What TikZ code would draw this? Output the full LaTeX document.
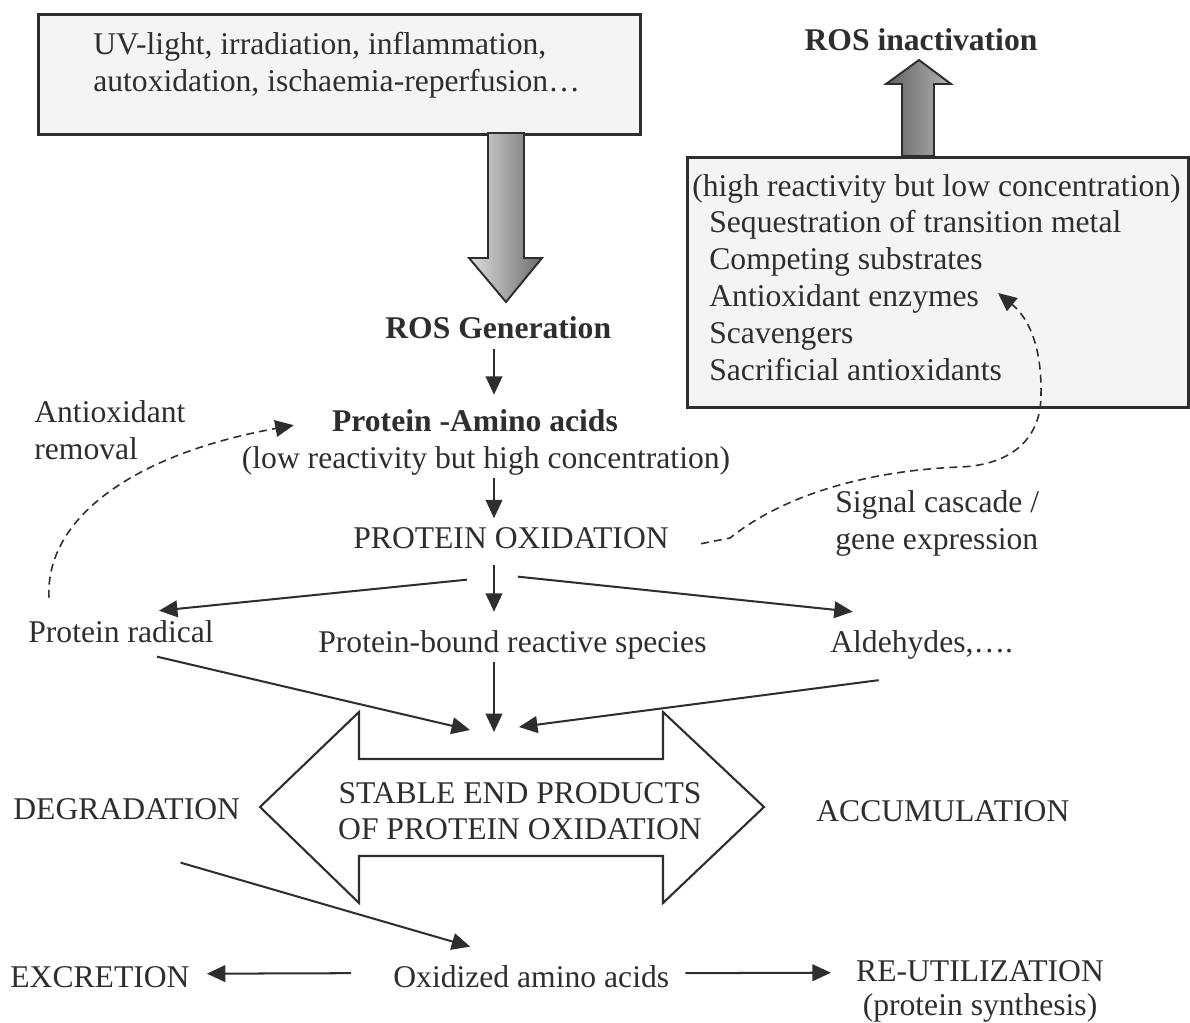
\documentclass[tikz,border=0pt]{standalone}
\usepackage{fontspec}
\setmainfont{Liberation Serif}
\usetikzlibrary{arrows.meta}
\usetikzlibrary{calc}
\usetikzlibrary{positioning}
\definecolor{ink}{gray}{0.18}
\definecolor{boxfill}{gray}{0.955}
\pgfdeclarehorizontalshading{downfade}{100bp}{color(0bp)=(black!35); color(22bp)=(black!10); color(100bp)=(black!80)}
\pgfdeclarehorizontalshading{upfade}{100bp}{color(0bp)=(black!80); color(100bp)=(black!12)}
\tikzset{
    txt/.style = {inner sep=0pt, text=ink, font=\fontsize{18}{21}\selectfont},
    boldtxt/.style = {txt, font=\fontsize{18}{21}\selectfont\bfseries},
    srcbox/.style = {rectangle, draw=ink, line width=1.6pt, fill=boxfill, inner sep=0pt},
    flow/.style = {draw=ink, line width=1.15pt, -{Triangle[length=10.5pt,width=9.5pt]}},
    feedback/.style = {flow, line width=0.9pt, dash pattern=on 4.5pt off 3pt}, % regulation loops
    fatarrow/.style = {draw=ink, line width=1.1pt},
    hollow/.style = {draw=ink, line width=1.2pt, fill=white}
}

\begin{document}
\begin{tikzpicture}[x=0.02cm, y=-0.02cm]
\useasboundingbox (0,0) rectangle (1190,1023);
%
% sources of ROS
\node[srcbox, anchor=north west, minimum width=12.04cm, minimum height=2.4cm] (uvbox) at (37,13) {};
\node[txt, anchor=north west, align=left] (uvtext) at (93,32) {UV-light, irradiation, inflammation,\\autoxidation, ischaemia-reperfusion\ldots};
\shadedraw[shading=downfade, fatarrow] (488,133) -- (488,258) -- (469,258) -- (506,302) -- (542,258) -- (524,258) -- (524,133) -- cycle;
\node[boldtxt, anchor=base west] (rosgen) at (385,339) {ROS Generation};
%
% inactivation box
\node[srcbox, anchor=north west, minimum width=10.02cm, minimum height=5cm] (inactbox) at (686,156) {};
\shadedraw[shading=upfade, fatarrow] (902,156) -- (902,84) -- (886,84) -- (919,60) -- (951,84) -- (934,84) -- (934,156) -- cycle;
\node[boldtxt, anchor=base] (rosinact) at (921,51) {ROS inactivation};
\node[txt, anchor=base west] (reactivity) at (692,197) {(high reactivity but low concentration)};
\node[txt, anchor=north west, align=left] (means) at (709,210) {Sequestration of transition metal\\Competing substrates\\Antioxidant enzymes\\Scavengers\\Sacrificial antioxidants};
\coordinate (enzymes) at (998,293);
%
% oxidation chain
\node[boldtxt, anchor=base] (protein) at (475,432) {Protein -Amino acids};
\node[txt, anchor=base] (lowreact) at (486,469) {(low reactivity but high concentration)};
\node[txt, anchor=base] (protox) at (511,549) {PROTEIN OXIDATION};
\node[txt, anchor=base west] (radical) at (28,642) {Protein radical};
\node[txt, anchor=base west] (bound) at (318,652) {Protein-bound reactive species};
\node[txt, anchor=base west] (aldehydes) at (830,652) {Aldehydes,\ldots.};
\node[txt, anchor=north west, align=left] (signal) at (835,490) {Signal cascade /\\gene expression};
\node[txt, anchor=north west, align=left] (antirem) at (34,400) {Antioxidant\\removal};
\coordinate (hub) at (494,732);
%
% end products
\draw[hollow] (260,807) -- (359,712) -- (359,759) -- (663,759) -- (663,712) -- (764,807)
    -- (663,903) -- (663,856) -- (359,856) -- (359,903) -- cycle;
\node[txt, align=center, font=\fontsize{18}{20.4}\selectfont] (stable) at (520,811) {STABLE END PRODUCTS\\OF PROTEIN OXIDATION};
\node[txt, anchor=base west] (degrad) at (13,819) {DEGRADATION};
\node[txt, anchor=base west] (accum) at (816,821) {ACCUMULATION};
\node[txt, anchor=base west] (oxamino) at (393,987) {Oxidized amino acids};
\node[txt, anchor=base west] (excretion) at (10,987) {EXCRETION};
\node[txt, anchor=base] (reuse) at (980,981) {RE-UTILIZATION};
\node[txt, anchor=base] (synth) at (980,1015) {(protein synthesis)};
%
\draw[flow, shorten <=0.18cm, shorten >=0.3cm] (rosgen.south -| hub) -- (protein.north -| hub);
\draw[flow, shorten <=0.04cm, shorten >=0.19cm] (lowreact.south -| hub) -- (protox.north -| hub);
\draw[flow, shorten <=0.31cm, shorten >=0.36cm] (protox.south -| hub) -- (bound.north -| hub);
\draw[flow, shorten <=0.06cm] (bound.south -| hub) -- (hub);
\draw[flow] ($(protox.south)+(-44,30)$) -- ($(radical.north)+(38,-9)$);
\draw[flow] ($(protox.south)+(7,27)$) -- ($(aldehydes.north)+(-69,-18)$);
\draw[flow] ($(radical.south)+(36,14)$) -- ($(hub)+(-24,-2)$);
\draw[flow] ($(aldehydes.south)+(-43,21)$) -- ($(hub)+(25,-5)$);
\draw[flow] ($(degrad.south)+(54,43)$) -- ($(oxamino.north)+(-61,-18)$);
\draw[flow] ($(oxamino.west)+(-42,-3)$) -- ($(excretion.east)+(17,-3)$);
\draw[flow] ($(oxamino.east)+(16,-3)$) -- ($(reuse.west)+(-25,2)$);
%
\draw[feedback] ($(protox.east)+(32,5)$) -- (730,538) .. controls (790,490) and (880,470) .. (960,467)
    .. controls (1010,465) and (1041,440) .. (1041,395) .. controls (1042,340) and (1025,315) .. (enzymes);
\draw[feedback] ($(radical.north)+(-72,-22)$) .. controls (45,520) and (130,455) .. ($(protein.west)+(-38,4)$);
\end{tikzpicture}
\end{document}
